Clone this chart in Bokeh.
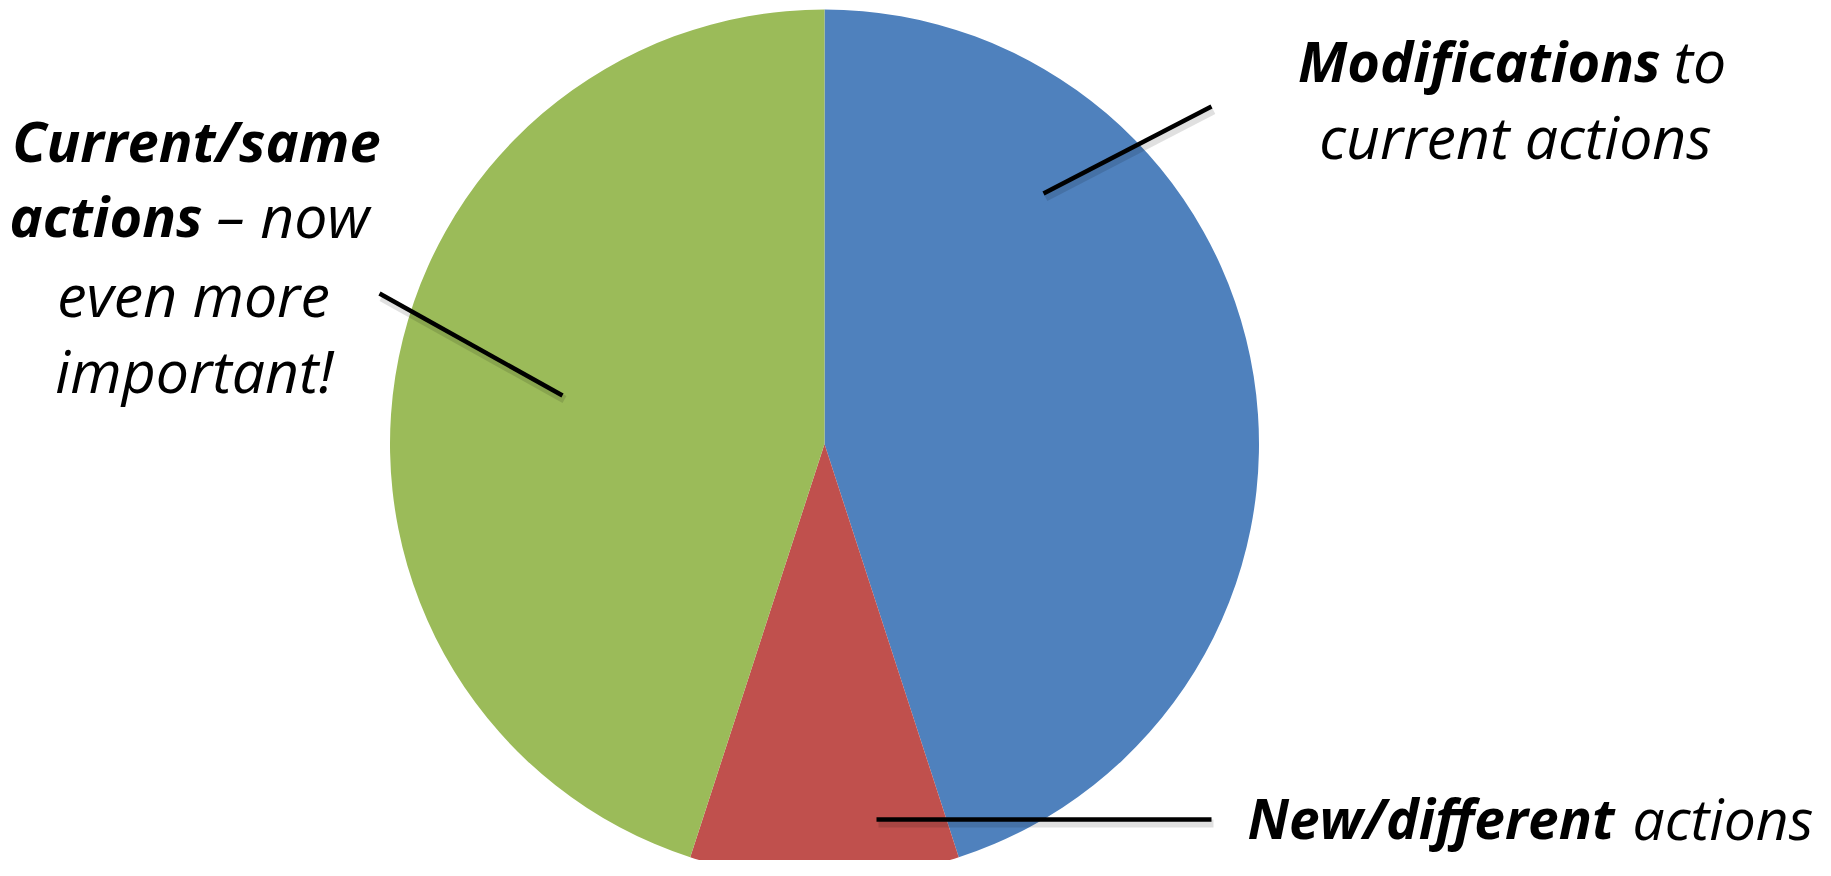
import math
from bokeh.plotting import figure
from bokeh.models import Range1d, ColumnDataSource
from bokeh.core.properties import value
from bokeh.embed import file_html
from bokeh.resources import INLINE

# ---- data ----
categories = ["Modifications to current actions", "New/different actions", "Current/same actions"]
shares = [45, 10, 45]
colors = ["#4F81BD", "#C0504D", "#9BBB59"]

W, H = 1815, 860


def dy(page_y):
    return 876 - page_y


p = figure(width=W, height=H, output_backend="svg", toolbar_location=None,
           x_range=Range1d(0, W), y_range=Range1d(876 - H, 876),
           min_border=0, outline_line_color=None)
p.axis.visible = False
p.grid.visible = False
p.background_fill_color = "white"

total = sum(shares)
starts, ends = [], []
acc = 0.0
for v in shares:
    starts.append(math.pi / 2 - 2 * math.pi * acc / total)
    acc += v
    ends.append(math.pi / 2 - 2 * math.pi * acc / total)

cx, cy, r = 824, dy(443.5), 434.5
src = ColumnDataSource(dict(start=starts, end=ends, color=colors, label=categories))
p.wedge(x=cx, y=cy, radius=r, start_angle="start", end_angle="end", direction="clock",
        fill_color="color", line_color=None, source=src)

# leader lines (with soft shadow)
leaders = [((1043, 193), (1211, 106)), ((379, 293), (562, 395)), ((876, 819), (1211, 819))]
for (x0, y0), (x1, y1) in leaders:
    p.line([x0 + 2, x1 + 2], [dy(y0 + 4), dy(y1 + 4)], line_color="black", line_alpha=0.12, line_width=8)
    p.line([x0, x1], [dy(y0), dy(y1)], line_color="black", line_width=4.5)

FONT = value("Open Sans")
YOFF = -23


def txt(x, y, s, style, align, fs=None):
    if fs is None:
        fs = "56px" if "bold" in style else "59px"
    p.text(x=[x], y=[dy(y + YOFF)], text=[s], text_font=FONT, text_font_size=fs,
           text_font_style=style, text_align=align, text_baseline="alphabetic", text_color="black")


# Modifications label
txt(1660, 82, "Modifications", "bold italic", "right")
txt(1673, 82, "to", "italic", "left")
txt(1515, 158, "current actions", "italic", "center")

# Current/same label
txt(196, 162, "Current/same", "bold italic", "center")
txt(202, 237, "actions", "bold italic", "right")
txt(216, 237, "– now", "italic", "left")
txt(193, 316, "even more", "italic", "center")
txt(194, 392, "important!", "italic", "center")

# New/different label
txt(1614, 840, "New/different", "bold italic", "right", "55px")
txt(1632, 840, "actions", "italic", "left", "57px")

open("out.html", "w").write(file_html(p, INLINE))
